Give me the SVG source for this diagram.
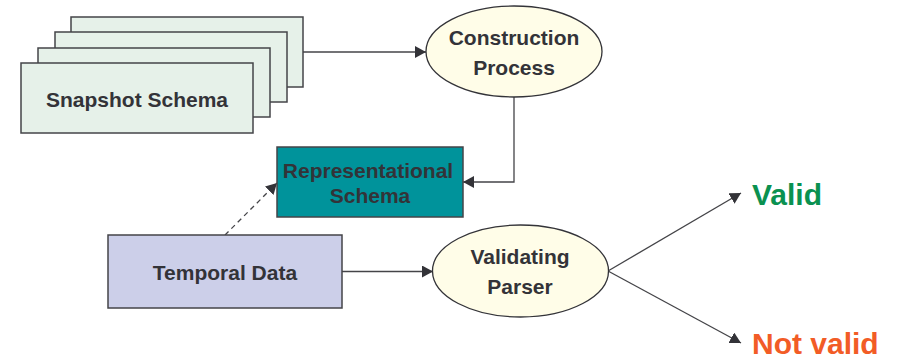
<svg xmlns="http://www.w3.org/2000/svg" width="900" height="359" viewBox="0 0 900 359">
  <defs>
    <marker id="arrow" markerWidth="12" markerHeight="12" refX="11" refY="6" orient="auto" markerUnits="userSpaceOnUse">
      <path d="M0,0 L11,6 L0,12 Z" fill="#333338"/>
    </marker>
  </defs>
  <style>
    .box { stroke: #444448; stroke-width: 1.5; }
    .snap { fill: #E6F1E9; }
    .proc { fill: #FFFDE8; stroke: #333338; stroke-width: 1.3; }
    .label { font-family: "Liberation Sans", Arial, sans-serif; font-weight: bold; font-size: 21px; fill: #333338; text-anchor: middle; }
    .edge { fill: none; stroke: #444448; stroke-width: 1.3; }
    .result { font-family: "Liberation Sans", Arial, sans-serif; font-weight: bold; font-size: 30px; }
  </style>
  <rect width="900" height="359" fill="#FFFFFF"/>

  <g id="connectors">
    <path class="edge" d="M303,52 L426,52" marker-end="url(#arrow)"/>
    <path class="edge" d="M514,97 L514,182 L463,182" marker-end="url(#arrow)"/>
    <path class="edge" d="M225,235 L277,183" stroke-dasharray="5,4" marker-end="url(#arrow)"/>
    <path class="edge" d="M342,271.5 L433,271.5" marker-end="url(#arrow)"/>
    <path class="edge" d="M608,271 L741,193" marker-end="url(#arrow)"/>
    <path class="edge" d="M608,271 L741,343" marker-end="url(#arrow)"/>
  </g>

  <g id="snapshot-schema">
    <rect class="box snap" x="71" y="17" width="232" height="70"/>
    <rect class="box snap" x="55" y="32" width="232" height="70"/>
    <rect class="box snap" x="38" y="48" width="232" height="69"/>
    <rect class="box snap" x="21" y="63" width="232" height="70"/>
    <text class="label" x="137" y="106.5">Snapshot Schema</text>
  </g>

  <g id="construction-process">
    <ellipse class="proc" cx="514" cy="51.5" rx="88" ry="45.5"/>
    <text class="label" x="514" y="44.5">Construction</text>
    <text class="label" x="514" y="74.5">Process</text>
  </g>

  <g id="representational-schema">
    <rect class="box" x="277" y="147" width="186" height="70" fill="#00939B"/>
    <text class="label" x="368" y="177.5">Representational</text>
    <text class="label" x="370" y="202.5">Schema</text>
  </g>

  <g id="temporal-data">
    <rect class="box" x="108" y="235" width="234" height="73" fill="#CCCFE9"/>
    <text class="label" x="225" y="279.5">Temporal Data</text>
  </g>

  <g id="validating-parser">
    <ellipse class="proc" cx="520.5" cy="271" rx="88" ry="46"/>
    <text class="label" x="520" y="264">Validating</text>
    <text class="label" x="520" y="293.5">Parser</text>
  </g>

  <g id="valid">
    <text class="result" x="752" y="205" fill="#0A9150">Valid</text>
  </g>

  <g id="not-valid">
    <text class="result" x="752" y="354" fill="#F25C26">Not valid</text>
  </g>
</svg>
